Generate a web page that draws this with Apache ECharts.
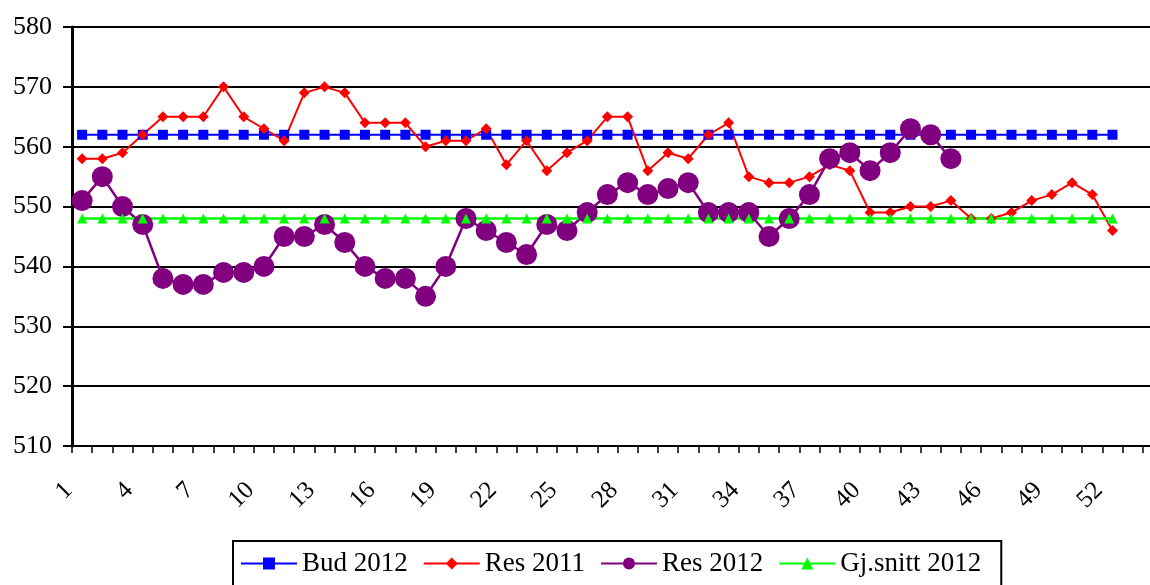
<!DOCTYPE html>
<html lang="no">
<head>
    <meta charset="UTF-8">
    <title>Bud 2012 / Res 2011 / Res 2012 / Gj.snitt 2012</title>
    <script src="https://cdn.jsdelivr.net/npm/echarts@6/dist/echarts.min.js"></script>
    <style>
        html, body { margin: 0; padding: 0; background: #fff; }
    </style>
</head>
<body>
    <div id="main" style="width: 1150px;height: 585px"></div>
    <script type="text/javascript">
        // uker (to tomme kategorier til slutt, aksen går ut over kanten)
        var weeks = ['1','2','3','4','5','6','7','8','9','10','11','12','13','14','15','16','17','18','19','20',
            '21','22','23','24','25','26','27','28','29','30','31','32','33','34','35','36','37','38','39','40',
            '41','42','43','44','45','46','47','48','49','50','51','52','',''];

        var bud2012 = [562,562,562,562,562,562,562,562,562,562,562,562,562,562,562,562,562,562,562,562,
            562,562,562,562,562,562,562,562,562,562,562,562,562,562,562,562,562,562,562,562,
            562,562,562,562,562,562,562,562,562,562,562,562];

        var res2011 = [558,558,559,562,565,565,565,570,565,563,561,569,570,569,564,564,564,560,561,561,
            563,557,561,556,559,561,565,565,556,559,558,562,564,555,554,554,555,557,556,549,
            549,550,550,551,548,548,549,551,552,554,552,546];

        var res2012 = [551,555,550,547,538,537,537,539,539,540,545,545,547,544,540,538,538,535,540,548,
            546,544,542,547,546,549,552,554,552,553,554,549,549,549,545,548,552,558,559,556,
            559,563,562,558];

        var snitt2012 = [548,548,548,548,548,548,548,548,548,548,548,548,548,548,548,548,548,548,548,548,
            548,548,548,548,548,548,548,548,548,548,548,548,548,548,548,548,548,548,548,548,
            548,548,548,548,548,548,548,548,548,548,548,548];

        var font = "'Liberation Serif', 'Times New Roman', serif";

        var myChart = echarts.init(document.getElementById('main'));

        var option = {
            animation: false,
            backgroundColor: '#fff',
            textStyle: { fontFamily: font, color: '#000' },
            grid: { left: 72, top: 27, width: 1091, height: 419, outerBoundsMode: 'none', containLabel: false },
            legend: {
                left: 233,
                top: 541,
                padding: [9, 20, 20, 7],
                borderColor: '#000',
                borderWidth: 2,
                itemGap: 15,
                itemWidth: 56,
                itemHeight: 15,
                textStyle: { fontFamily: font, fontSize: 27, color: '#000' },
                data: ['Bud 2012', 'Res 2011', 'Res 2012', 'Gj.snitt 2012']
            },
            xAxis: {
                type: 'category',
                data: weeks,
                boundaryGap: true,
                axisLine: { lineStyle: { color: '#000', width: 2 } },
                axisTick: { show: true, interval: 0, length: 7, lineStyle: { color: '#000', width: 1.5 } },
                axisLabel: {
                    interval: 2,
                    rotate: 45,
                    margin: 27,
                    padding: [0, 19, 0, 0],
                    fontFamily: font,
                    fontSize: 25,
                    color: '#000'
                },
                splitLine: { show: false }
            },
            yAxis: {
                type: 'value',
                min: 510,
                max: 580,
                interval: 10,
                axisLine: { show: true, lineStyle: { color: '#000', width: 3 } },
                axisTick: { show: true, length: 9, lineStyle: { color: '#000', width: 2 } },
                axisLabel: { margin: 20, fontFamily: font, fontSize: 26, color: '#000' },
                splitLine: { show: true, lineStyle: { color: '#000', width: 2 } }
            },
            series: [
                {
                    name: 'Bud 2012',
                    type: 'line',
                    data: bud2012,
                    symbol: 'rect',
                    symbolSize: 10,
                    showAllSymbol: true,
                    itemStyle: { color: '#0000FF' },
                    lineStyle: { color: '#0000FF', width: 2 }
                },
                {
                    name: 'Res 2011',
                    type: 'line',
                    data: res2011,
                    symbol: 'diamond',
                    symbolSize: 11,
                    showAllSymbol: true,
                    itemStyle: { color: '#FF0000' },
                    lineStyle: { color: '#FF0000', width: 2 }
                },
                {
                    name: 'Res 2012',
                    type: 'line',
                    data: res2012,
                    symbol: 'circle',
                    symbolSize: 21,
                    showAllSymbol: true,
                    itemStyle: { color: '#800080' },
                    lineStyle: { color: '#800080', width: 2.5 }
                },
                {
                    name: 'Gj.snitt 2012',
                    type: 'line',
                    data: snitt2012,
                    symbol: 'triangle',
                    symbolSize: 10,
                    showAllSymbol: true,
                    itemStyle: { color: '#00FF00' },
                    lineStyle: { color: '#00FF00', width: 2.5 }
                }
            ]
        };

        myChart.setOption(option);
    </script>
</body>
</html>
